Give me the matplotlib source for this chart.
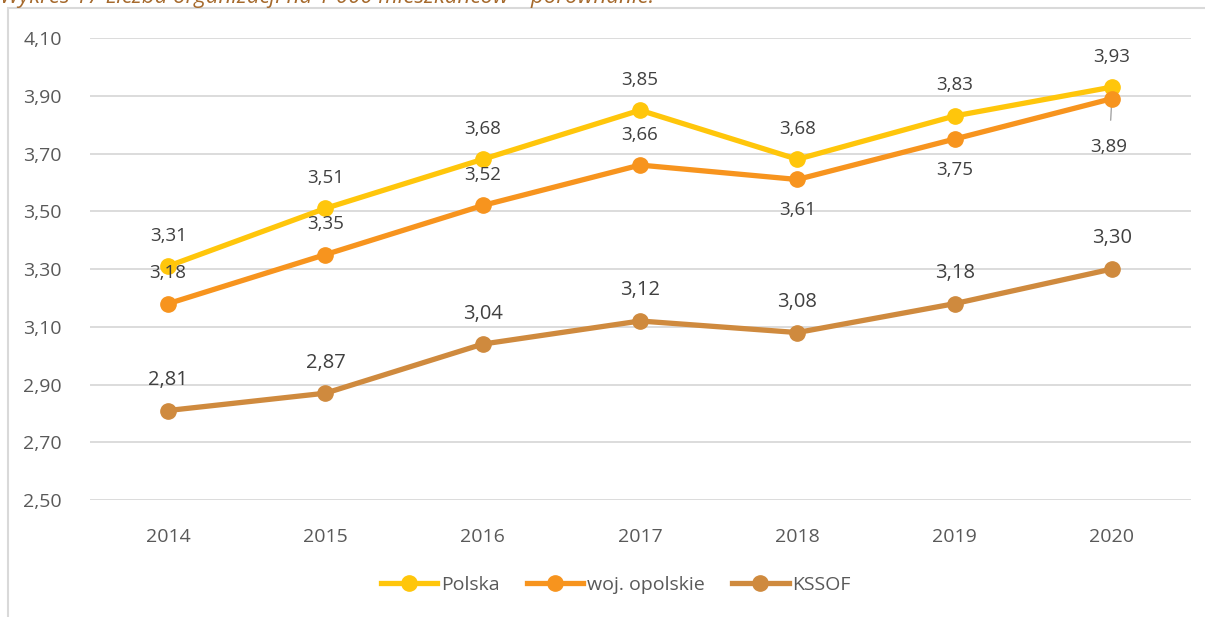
import matplotlib.pyplot as plt
from matplotlib.patches import Rectangle

plt.rcParams['font.family'] = ['Open Sans', 'DejaVu Sans']

years = ['2014', '2015', '2016', '2017', '2018', '2019', '2020']
polska = [3.31, 3.51, 3.68, 3.85, 3.68, 3.83, 3.93]
opolskie = [3.18, 3.35, 3.52, 3.66, 3.61, 3.75, 3.89]
kssof = [2.81, 2.87, 3.04, 3.12, 3.08, 3.18, 3.30]
yticks = [2.5, 2.7, 2.9, 3.1, 3.3, 3.5, 3.7, 3.9, 4.1]

# label placement: +1 above the point, -1 below
opolskie_pos = [1, 1, 1, 1, -1, -1, -1]

c_pl = '#FFC60B'
c_op = '#F7941E'
c_ks = '#CF8A3E'
txt = '#404040'

fig = plt.figure(figsize=(12.05, 6.17), dpi=100)
ax = fig.add_axes([0.0743, 0.1896, 0.9137, 0.7488])

x = range(len(years))
ax.plot(x, polska, color=c_pl, lw=3.8, marker='o', ms=11, label='Polska', zorder=3)
ax.plot(x, opolskie, color=c_op, lw=3.8, marker='o', ms=11, label='woj. opolskie', zorder=4)
ax.plot(x, kssof, color=c_ks, lw=3.8, marker='o', ms=11, label='KSSOF', zorder=3)

def fmt(v):
    return f'{v:.2f}'.replace('.', ',')

for i, v in enumerate(polska):
    ax.annotate(fmt(v), (i, v), xytext=(0, 22), textcoords='offset points',
                ha='center', va='center', fontsize=13.5, color=txt)
for i, v in enumerate(opolskie):
    if i == 6:
        ax.annotate(fmt(v), (i, v), xytext=(-2, -35), textcoords='offset points',
                    ha='center', va='center', fontsize=13.5, color=txt,
                    arrowprops=dict(arrowstyle='-', color='#A6A6A6', lw=1,
                                    shrinkA=11, shrinkB=0))
    else:
        ax.annotate(fmt(v), (i, v), xytext=(0, 22 * opolskie_pos[i]),
                    textcoords='offset points', ha='center', va='center',
                    fontsize=13.5, color=txt)
for i, v in enumerate(kssof):
    ax.annotate(fmt(v), (i, v), xytext=(0, 22), textcoords='offset points',
                ha='center', va='center', fontsize=14.5, color=txt)

ax.set_xlim(-0.5, 6.5)
ax.set_ylim(2.5, 4.1)
ax.set_yticks(yticks)
ax.set_yticklabels([fmt(t) for t in yticks])
ax.set_xticks(list(x))
ax.set_xticklabels(years)
ax.tick_params(length=0, labelsize=14, labelcolor='#595959')
ax.tick_params(axis='x', pad=20)
ax.tick_params(axis='y', pad=20)
ax.grid(axis='y', color='#D9D9D9', lw=1.3)
ax.set_axisbelow(True)
for s in ax.spines.values():
    s.set_visible(False)

ax.legend(loc='center', bbox_to_anchor=(0.478, -0.184), ncol=3, frameon=False,
          fontsize=14, labelcolor='#595959', handlelength=2.9, handletextpad=0.2,
          columnspacing=1.4)

# outer chart frame, open at right and bottom
fig.patches.append(Rectangle((8 / 1205, -0.1), 1.2, 1 - 8 / 617 + 0.1,
                             transform=fig.transFigure, fill=False,
                             edgecolor='#D9D9D9', lw=1.5, zorder=0))

fig.text(0.0, 1 - 3 / 617, 'Wykres 17 Liczba organizacji na 1 000 mieszkańców – porównanie.',
         ha='left', va='baseline', fontsize=16, style='italic', color='#A5692C')

fig.savefig('out.png', dpi=100)
